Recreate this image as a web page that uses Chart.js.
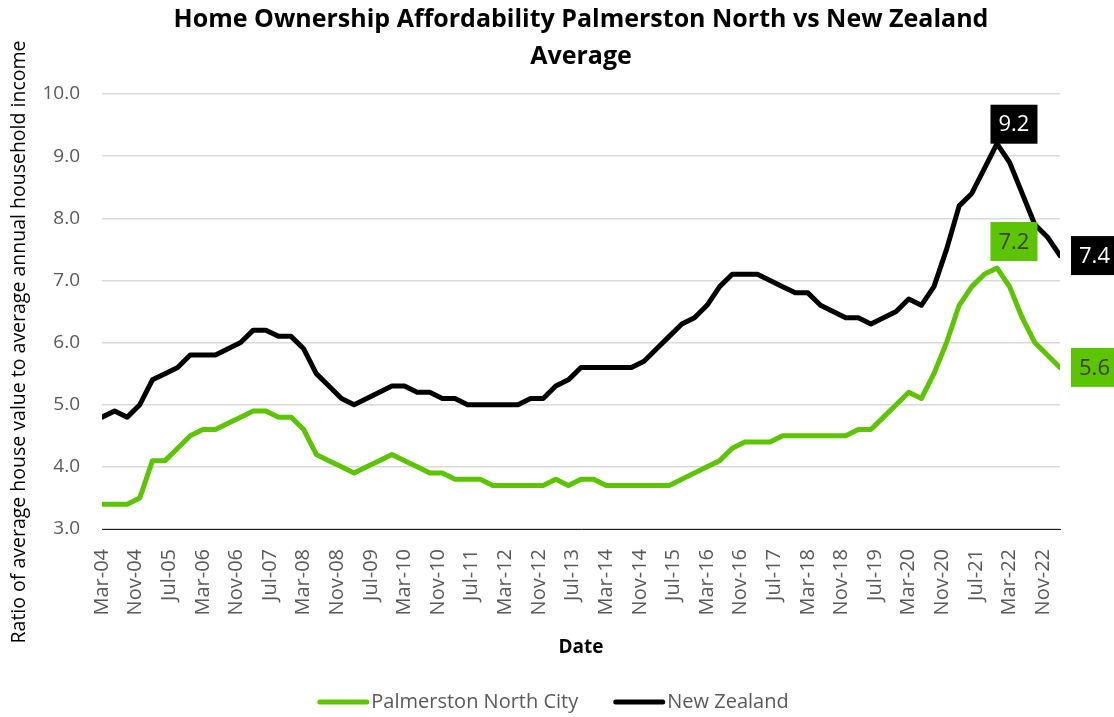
<!DOCTYPE html>
<html>
<head>
<meta charset="utf-8">
<title>Home Ownership Affordability</title>
<script src="https://cdn.jsdelivr.net/npm/chart.js@4.4.1/dist/chart.umd.min.js"></script>
<style>
  html, body { margin: 0; padding: 0; background: #fff; }
  #wrap { width: 1114px; height: 717px; }
</style>
</head>
<body>
<div id="wrap"><canvas id="grafica"></canvas></div>
<script>
const MONTHS = ['Jan','Feb','Mar','Apr','May','Jun','Jul','Aug','Sep','Oct','Nov','Dec'];

const titleLines = ['Home Ownership Affordability Palmerston North vs New Zealand', 'Average'];
const yTitle = 'Ratio of average house value to average annual household income';

// quarterly observations, Mar-04 .. Mar-23
const dates = [];
for (let yr = 2004; yr <= 2023; yr++) {
  for (const m of ['Mar', 'Jun', 'Sep', 'Dec']) {
    if (yr === 2023 && m !== 'Mar') break;
    dates.push(m + '-' + String(yr).slice(2));
  }
}

const palmerstonNorth = [
  3.4, 3.4, 3.4, 3.5, 4.1, 4.1, 4.3, 4.5, 4.6, 4.6,
  4.7, 4.8, 4.9, 4.9, 4.8, 4.8, 4.6, 4.2, 4.1, 4.0,
  3.9, 4.0, 4.1, 4.2, 4.1, 4.0, 3.9, 3.9, 3.8, 3.8,
  3.8, 3.7, 3.7, 3.7, 3.7, 3.7, 3.8, 3.7, 3.8, 3.8,
  3.7, 3.7, 3.7, 3.7, 3.7, 3.7, 3.8, 3.9, 4.0, 4.1,
  4.3, 4.4, 4.4, 4.4, 4.5, 4.5, 4.5, 4.5, 4.5, 4.5,
  4.6, 4.6, 4.8, 5.0, 5.2, 5.1, 5.5, 6.0, 6.6, 6.9,
  7.1, 7.2, 6.9, 6.4, 6.0, 5.8, 5.6
];

const newZealand = [
  4.8, 4.9, 4.8, 5.0, 5.4, 5.5, 5.6, 5.8, 5.8, 5.8,
  5.9, 6.0, 6.2, 6.2, 6.1, 6.1, 5.9, 5.5, 5.3, 5.1,
  5.0, 5.1, 5.2, 5.3, 5.3, 5.2, 5.2, 5.1, 5.1, 5.0,
  5.0, 5.0, 5.0, 5.0, 5.1, 5.1, 5.3, 5.4, 5.6, 5.6,
  5.6, 5.6, 5.6, 5.7, 5.9, 6.1, 6.3, 6.4, 6.6, 6.9,
  7.1, 7.1, 7.1, 7.0, 6.9, 6.8, 6.8, 6.6, 6.5, 6.4,
  6.4, 6.3, 6.4, 6.5, 6.7, 6.6, 6.9, 7.5, 8.2, 8.4,
  8.8, 9.2, 8.9, 8.4, 7.9, 7.7, 7.4
];

const tickLabels = [
  'Mar-04', 'Nov-04', 'Jul-05', 'Mar-06', 'Nov-06', 'Jul-07', 'Mar-08', 'Nov-08',
  'Jul-09', 'Mar-10', 'Nov-10', 'Jul-11', 'Mar-12', 'Nov-12', 'Jul-13', 'Mar-14',
  'Nov-14', 'Jul-15', 'Mar-16', 'Nov-16', 'Jul-17', 'Mar-18', 'Nov-18', 'Jul-19',
  'Mar-20', 'Nov-20', 'Jul-21', 'Mar-22', 'Nov-22'
];

const yTicks = [3, 4, 5, 6, 7, 8, 9, 10];

// value boxes: dataset index, point index, where the box sits
const callouts = [
  { ds: 1, idx: 71, place: 'above' },
  { ds: 0, idx: 71, place: 'above' },
  { ds: 1, idx: 76, place: 'right' },
  { ds: 0, idx: 76, place: 'right' }
];

// "Mar-04" -> months after March 2004
function monthOffset(label) {
  const [m, y] = label.split('-');
  return (2000 + Number(y) - 2004) * 12 + MONTHS.indexOf(m) - 2;
}

const toPoints = vals => vals.map((v, i) => ({ x: monthOffset(dates[i]), y: v }));

const GREEN = '#5cc400';
const FONT = "'Open Sans', sans-serif";
Chart.defaults.font.family = FONT;

const decorPlugin = {
  id: 'decor',
  afterDatasetsDraw(chart) {
    const ctx = chart.ctx;
    ctx.save();
    ctx.font = '22px ' + FONT;
    ctx.textAlign = 'center';
    ctx.textBaseline = 'middle';
    callouts.forEach(c => {
      const ds = chart.data.datasets[c.ds];
      const pt = chart.getDatasetMeta(c.ds).data[c.idx];
      const w = 47, h = 39;
      let bx, by;
      if (c.place === 'above') {
        bx = pt.x + 17 - w / 2;
        by = pt.y - (c.ds === 0 ? 7 : 0) - h;
      } else {
        bx = pt.x + 11;
        by = pt.y - h / 2;
      }
      ctx.fillStyle = ds.borderColor;
      ctx.fillRect(bx, by, w, h);
      ctx.fillStyle = c.ds === 0 ? '#404040' : '#ffffff';
      ctx.fillText(ds.data[c.idx].y.toFixed(1), bx + w / 2, by + h / 2 + 1);
    });
    ctx.restore();
  },
  afterDraw(chart) {
    const ctx = chart.ctx;
    const { left, right } = chart.chartArea;
    const cx = (left + right) / 2;
    ctx.save();
    ctx.fillStyle = '#000';
    ctx.textAlign = 'center';
    ctx.textBaseline = 'middle';

    // chart title
    ctx.font = 'bold 25px ' + FONT;
    ctx.fillText(titleLines[0], cx, 20);
    ctx.fillText(titleLines[1], cx, 57);

    // legend along the bottom
    ctx.font = '20px ' + FONT;
    ctx.textAlign = 'left';
    const boxW = 52, gap = 2, spacing = 35, ly = 702;
    const items = chart.data.datasets.map(ds => ({ ds, w: ctx.measureText(ds.label).width }));
    const total = items.reduce((s, it) => s + boxW + gap + it.w, 0) + spacing * (items.length - 1);
    let lx = 553 - total / 2;
    items.forEach(it => {
      ctx.fillStyle = it.ds.borderColor;
      ctx.beginPath();
      ctx.roundRect(lx, ly - 2.5, boxW, 5, 2.5);
      ctx.fill();
      ctx.fillStyle = '#595959';
      ctx.fillText(it.ds.label, lx + boxW + gap, ly);
      lx += boxW + gap + it.w + spacing;
    });

    // y axis title
    ctx.fillStyle = '#000';
    ctx.textAlign = 'center';
    ctx.font = '19.5px ' + FONT;
    ctx.translate(19, 342);
    ctx.rotate(-Math.PI / 2);
    ctx.fillText(yTitle, 0, 0);
    ctx.restore();
  }
};

new Chart(document.querySelector('#grafica'), {
  type: 'line',
  data: {
    datasets: [
      {
        label: 'Palmerston North City',
        data: toPoints(palmerstonNorth),
        borderColor: GREEN,
        backgroundColor: GREEN,
        borderWidth: 5,
        pointRadius: 0,
        tension: 0,
        borderJoinStyle: 'round',
        borderCapStyle: 'round'
      },
      {
        label: 'New Zealand',
        data: toPoints(newZealand),
        borderColor: '#000000',
        backgroundColor: '#000000',
        borderWidth: 5,
        pointRadius: 0,
        tension: 0,
        borderJoinStyle: 'round',
        borderCapStyle: 'round'
      }
    ]
  },
  options: {
    responsive: true,
    maintainAspectRatio: false,
    animation: false,
    layout: { padding: { top: 94, right: 54, left: 0, bottom: 58 } },
    plugins: {
      title: { display: false },
      tooltip: { enabled: false },
      legend: { display: false }
    },
    scales: {
      x: {
        type: 'linear',
        min: 0,
        max: monthOffset(dates[dates.length - 1]),
        grid: { display: false },
        border: { display: true, color: '#1a1a1a', width: 1 },
        afterBuildTicks(scale) {
          scale.ticks = tickLabels.map(l => ({ value: monthOffset(l) }));
        },
        afterFit(scale) { scale.height = 130; },
        ticks: {
          autoSkip: false,
          minRotation: 90,
          maxRotation: 90,
          padding: 12,
          color: '#595959',
          font: { size: 20 },
          callback: (v, i) => tickLabels[i]
        },
        title: {
          display: true,
          text: 'Date',
          color: '#000',
          font: { size: 19, weight: 'bold' },
          padding: { top: 18, bottom: 0 }
        }
      },
      y: {
        min: yTicks[0],
        max: yTicks[yTicks.length - 1],
        afterBuildTicks(scale) {
          scale.ticks = yTicks.map(v => ({ value: v }));
        },
        afterFit(scale) { scale.width = 102; },
        grid: { color: '#d9d9d9', lineWidth: 1.5, drawTicks: false },
        border: { display: false },
        ticks: {
          padding: 22,
          color: '#595959',
          font: { size: 19 },
          callback: v => v.toFixed(1)
        }
      }
    }
  },
  plugins: [decorPlugin]
});
</script>
</body>
</html>
